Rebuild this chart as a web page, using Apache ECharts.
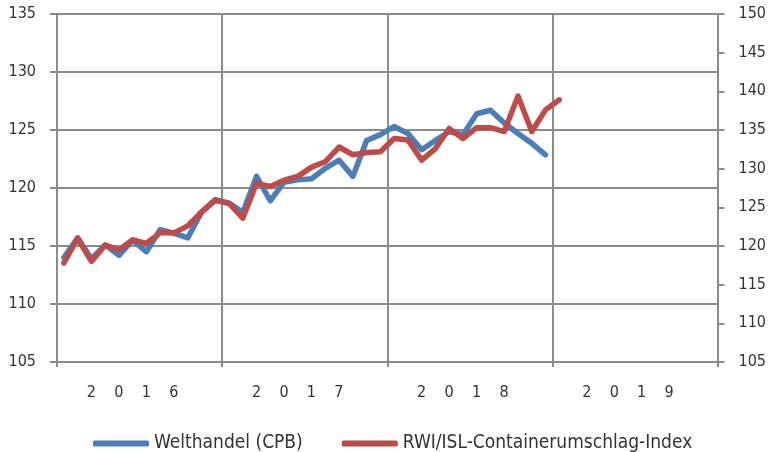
<!DOCTYPE html>
<html><head><meta charset="utf-8">
<script src="https://cdn.jsdelivr.net/npm/echarts@6/dist/echarts.min.js"></script>
<style>html,body{margin:0;padding:0;background:#fff}#c{width:769px;height:452px}</style>
</head><body><div id="c"></div>
<script>
var years = ['2016', '2017', '2018', '2019'];
var months = [];
for (var y = 2016; y <= 2019; y++) for (var m = 1; m <= 12; m++) months.push(y + '-' + (m < 10 ? '0' + m : m));
var seriesNames = ['Welthandel (CPB)', 'RWI/ISL-Containerumschlag-Index'];
var welthandel = [114.0, 115.7, 113.9, 115.1, 114.2, 115.5, 114.5, 116.4, 116.1, 115.7, 117.9, 119.0,
  118.7, 117.9, 121.0, 118.9, 120.5, 120.7, 120.8, 121.7, 122.4, 121.0, 124.1, 124.6,
  125.3, 124.7, 123.3, 124.1, 124.85, 124.6, 126.4, 126.7, 125.6, 124.7, 123.85, 122.85];
var container = [117.8, 121.0, 118.0, 120.1, 119.5, 120.8, 120.35, 121.7, 121.7, 122.6, 124.4, 125.9,
  125.5, 123.6, 128.1, 127.7, 128.5, 129.0, 130.2, 130.9, 132.8, 131.8, 132.1, 132.2,
  133.9, 133.7, 131.1, 132.6, 135.2, 133.9, 135.3, 135.3, 134.8, 139.4, 134.8, 137.6,
  138.9];
var leftTicks = {min: 105, max: 135, step: 5};
var rightTicks = {min: 105, max: 150, step: 5};

var FONT = 'DejaVu Sans Condensed';
var GRAY = '#8c8c8c';
var chart = echarts.init(document.getElementById('c'), null, {renderer: 'canvas'});
chart.setOption({
  animation: false,
  textStyle: {fontFamily: FONT},
  grid: {left: 57, right: 50, top: 14, bottom: 90, containLabel: false},
  legend: {
    data: seriesNames, left: 88, top: 429, itemWidth: 56, itemHeight: 6, itemGap: 39,
    icon: 'roundRect',
    textStyle: {fontFamily: FONT, fontSize: 19, color: '#333'}
  },
  xAxis: [{
    type: 'category', data: years, boundaryGap: true,
    axisLine: {show: true, lineStyle: {color: GRAY, width: 2}},
    axisTick: {show: true, length: 5, lineStyle: {color: GRAY, width: 2}},
    splitLine: {show: true, lineStyle: {color: GRAY, width: 2}},
    axisLabel: {margin: 23, fontFamily: FONT, fontSize: 16, color: '#333', padding: [0, 14, 0, 0],
      formatter: function (v) { return v.split('').join('    '); }}
  }, {
    type: 'category', data: months, boundaryGap: true, show: false,
    axisLine: {show: false}, axisTick: {show: false}, splitLine: {show: false}
  }],
  yAxis: [{
    type: 'value', position: 'left', min: leftTicks.min, max: leftTicks.max, interval: leftTicks.step,
    axisLine: {show: true, lineStyle: {color: GRAY, width: 2}},
    axisTick: {show: true, length: 7, lineStyle: {color: GRAY, width: 2}},
    splitLine: {show: true, lineStyle: {color: GRAY, width: 2}},
    axisLabel: {margin: 21, fontFamily: FONT, fontSize: 16, color: '#333'}
  }, {
    type: 'value', position: 'right', min: rightTicks.min, max: rightTicks.max, interval: rightTicks.step,
    axisLine: {show: true, lineStyle: {color: GRAY, width: 2}},
    axisTick: {show: true, length: 7, lineStyle: {color: GRAY, width: 2}},
    splitLine: {show: false},
    axisLabel: {margin: 21, fontFamily: FONT, fontSize: 16, color: '#333'}
  }],
  series: [{
    name: seriesNames[0], type: 'line', xAxisIndex: 1, yAxisIndex: 0, data: welthandel,
    showSymbol: false, symbol: 'none', color: '#4a7ebb',
    lineStyle: {width: 5.5, color: '#4a7ebb', join: 'round', cap: 'round'}, z: 3
  }, {
    name: seriesNames[1], type: 'line', xAxisIndex: 1, yAxisIndex: 1, data: container,
    showSymbol: false, symbol: 'none', color: '#be4b48',
    lineStyle: {width: 5.5, color: '#be4b48', join: 'round', cap: 'round'}, z: 4
  }]
});
</script></body></html>
